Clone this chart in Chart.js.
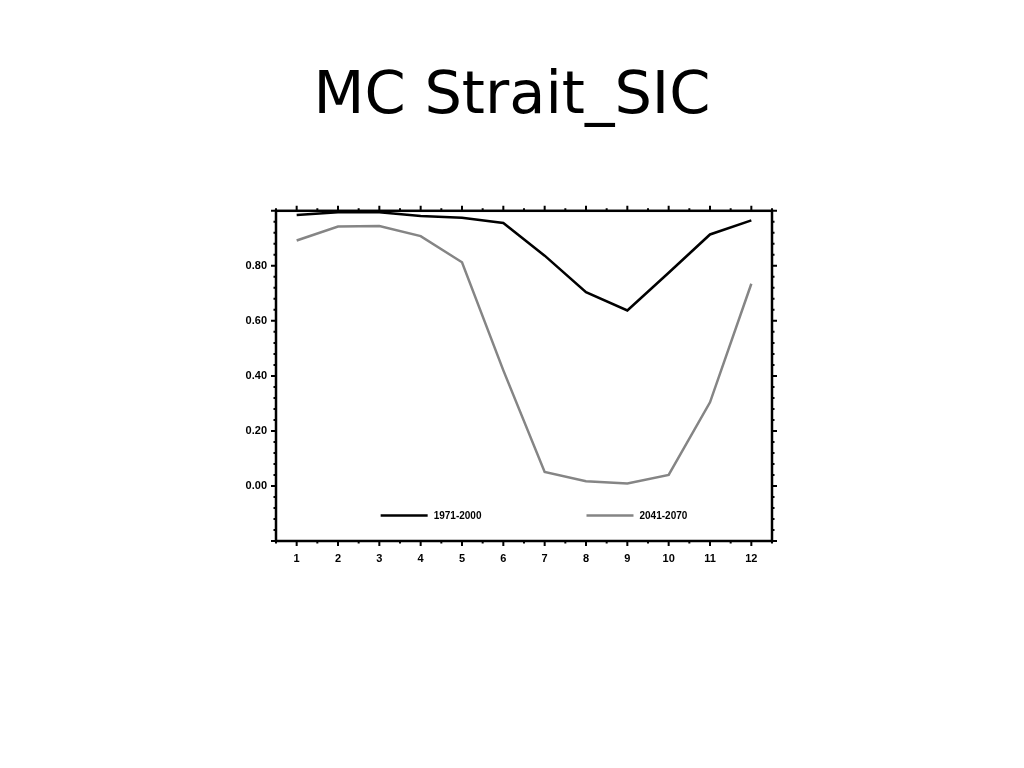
<!DOCTYPE html>
<html>
<head>
<meta charset="utf-8">
<title>MC Strait_SIC</title>
<script src="https://cdn.jsdelivr.net/npm/chart.js@4/dist/chart.umd.min.js"></script>
<style>
    body { margin: 0; background: #fff; }
    #chart { display: block; }
</style>
</head>
<body>
<canvas id="chart" width="1024" height="768"></canvas>
<script>
// Monthly sea ice concentration
const months = [1, 2, 3, 4, 5, 6, 7, 8, 9, 10, 11, 12];
const sic1971 = [0.985, 0.995, 0.995, 0.981, 0.975, 0.956, 0.837, 0.704, 0.638, 0.775, 0.914, 0.965];
const sic2041 = [0.892, 0.943, 0.945, 0.908, 0.813, 0.420, 0.051, 0.017, 0.009, 0.040, 0.304, 0.735];
const seriesLabels = ["1971-2000", "2041-2070"];
const yTickLabels = [0.0, 0.2, 0.4, 0.6, 0.8];

const tickFont = { family: "'Liberation Sans', Arial, sans-serif", size: 11, weight: "bold" };

// Draw frame, tick marks on all four sides and the legend inside the plot
const frameTicks = {
    id: "frameTicks",
    afterDraw(chart) {
        const ctx = chart.ctx;
        const { left, right, top, bottom } = chart.chartArea;
        const xs = chart.scales.x;
        const ys = chart.scales.y;
        ctx.save();
        ctx.strokeStyle = "#000";
        ctx.lineWidth = 2;

        // x ticks (major at months, minor at half months)
        for (let v = xs.min; v <= xs.max + 1e-6; v += 0.5) {
            const px = xs.getPixelForValue(v);
            const len = Number.isInteger(v) ? 5 : 2.5;
            ctx.beginPath();
            ctx.moveTo(px, bottom); ctx.lineTo(px, bottom + len);
            ctx.moveTo(px, top); ctx.lineTo(px, top - len);
            ctx.stroke();
        }
        // y ticks (major every 0.2, minor every 0.04)
        for (let i = 0; i <= 30; i++) {
            const v = ys.min + i * 0.04;
            const py = ys.getPixelForValue(v);
            const len = i % 5 === 0 ? 5 : 2.5;
            ctx.beginPath();
            ctx.moveTo(left, py); ctx.lineTo(left - len, py);
            ctx.moveTo(right, py); ctx.lineTo(right + len, py);
            ctx.stroke();
        }

        ctx.lineWidth = 2.5;
        ctx.strokeRect(left, top, right - left, bottom - top);

        // legend
        const w = right - left;
        const ly = top + (bottom - top) * 0.923;
        const starts = [0.211, 0.626];
        chart.data.datasets.forEach((ds, i) => {
            const x0 = left + w * starts[i];
            ctx.strokeStyle = ds.borderColor;
            ctx.lineWidth = 2.5;
            ctx.beginPath();
            ctx.moveTo(x0, ly); ctx.lineTo(x0 + 47, ly);
            ctx.stroke();
            ctx.fillStyle = "#000";
            ctx.font = "bold 10px 'Liberation Sans', Arial, sans-serif";
            ctx.textBaseline = "middle";
            ctx.fillText(ds.label, x0 + 53, ly + 0.5);
        });
        ctx.restore();
    }
};

new Chart(document.getElementById("chart").getContext("2d"), {
    type: "line",
    data: {
        datasets: [
            {
                label: seriesLabels[0],
                data: months.map((m, i) => ({ x: m, y: sic1971[i] })),
                borderColor: "#000000",
                borderWidth: 2.5,
                pointRadius: 0,
                tension: 0,
                fill: false
            },
            {
                label: seriesLabels[1],
                data: months.map((m, i) => ({ x: m, y: sic2041[i] })),
                borderColor: "#858585",
                borderWidth: 2.5,
                pointRadius: 0,
                tension: 0,
                fill: false
            }
        ]
    },
    options: {
        responsive: false,
        animation: false,
        layout: { padding: 0 },
        plugins: {
            legend: { display: false },
            tooltip: { enabled: false },
            title: {
                display: true,
                text: "MC Strait_SIC",
                color: "#000",
                font: { family: "'DejaVu Sans', sans-serif", size: 59, weight: "normal" },
                padding: { top: 62, bottom: 78 }
            }
        },
        scales: {
            x: {
                type: "linear",
                min: 0.5,
                max: 12.5,
                grid: { display: false },
                border: { display: false },
                afterBuildTicks: (scale) => { scale.ticks = months.map(v => ({ value: v })); },
                afterFit: (scale) => { scale.height = 768 - 541; },
                ticks: { color: "#000", font: tickFont, padding: 3, maxRotation: 0, autoSkip: false }
            },
            y: {
                min: -0.2,
                max: 1.0,
                grid: { display: false },
                border: { display: false },
                afterBuildTicks: (scale) => { scale.ticks = yTickLabels.map(v => ({ value: v })); },
                afterFit: (scale) => { scale.width = 276; },
                ticks: { color: "#000", font: tickFont, padding: 1, callback: (v) => v.toFixed(2) }
            },
            // empty right-hand axis, only reserves the blank space right of the plot
            yRight: {
                position: "right",
                min: -0.2,
                max: 1.0,
                grid: { display: false },
                border: { display: false },
                ticks: { display: false },
                afterFit: (scale) => { scale.width = 1024 - 772; }
            }
        }
    },
    plugins: [frameTicks]
});
</script>
</body>
</html>
